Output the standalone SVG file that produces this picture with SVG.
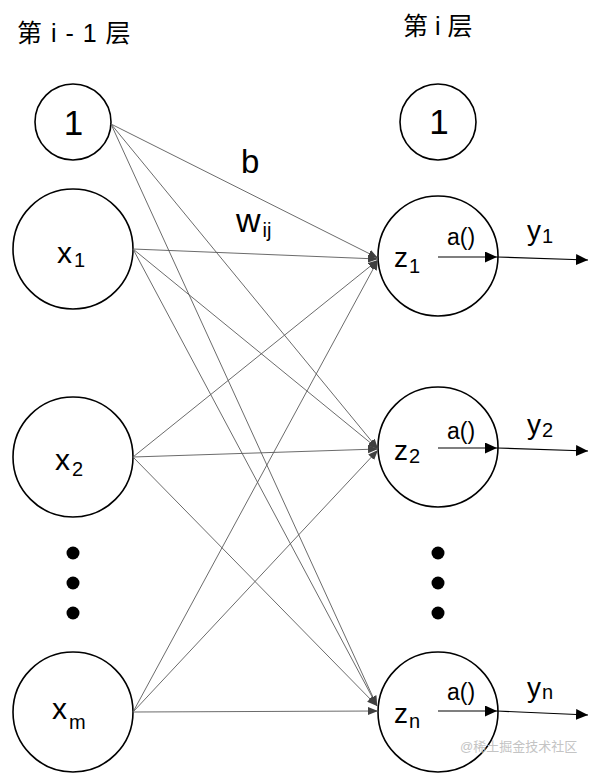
<svg xmlns="http://www.w3.org/2000/svg" width="590" height="773" viewBox="0 0 590 773">
<style>
text{font-family:"Liberation Sans","Noto Sans CJK SC",sans-serif;fill:#000}
.node{fill:#fff;stroke:#000;stroke-width:1.6}
.in{stroke:#5a5a5a;stroke-width:0.9;fill:none;marker-end:url(#ga)}
.out{stroke:#000;stroke-width:1.2;fill:none;marker-end:url(#ba)}
.hdr{font-size:25px}
.dot{fill:#000}
</style>
<defs>
<marker id="ga" markerUnits="userSpaceOnUse" markerWidth="12" markerHeight="10" refX="10" refY="4" orient="auto">
<path d="M0,0 L10,4 L0,8 Z" fill="#404040"/>
</marker>
<marker id="ba" markerUnits="userSpaceOnUse" markerWidth="14" markerHeight="12" refX="12" refY="5.5" orient="auto">
<path d="M0,0 L12,5.5 L0,11 Z" fill="#000"/>
</marker>
</defs>
<rect width="590" height="773" fill="#fff"/>
<text class="hdr" x="17" y="42" letter-spacing="1">第 i - 1 层</text>
<text class="hdr" x="403" y="35">第 i 层</text>
<g id="bias-left"><circle class="node" cx="73" cy="122" r="38"/><text x="73.5" y="135" font-size="35" text-anchor="middle">1</text></g>
<g id="x1"><circle class="node" cx="73" cy="249" r="60"/><text x="57" y="263" font-size="30">x<tspan font-size="20" dy="4" dx="2">1</tspan></text></g>
<g id="x2"><circle class="node" cx="73" cy="457" r="60"/><text x="55" y="470" font-size="30">x<tspan font-size="20" dy="6" dx="2">2</tspan></text></g>
<g id="dots-left"><circle class="dot" cx="73" cy="553" r="6.5"/><circle class="dot" cx="73" cy="583" r="6.5"/><circle class="dot" cx="73" cy="613" r="6.5"/></g>
<g id="xm"><circle class="node" cx="73" cy="712" r="60"/><text x="52" y="719" font-size="30">x<tspan font-size="20" dy="10" dx="2">m</tspan></text></g>
<g id="bias-right"><circle class="node" cx="438" cy="122" r="38"/><text x="439" y="134" font-size="35" text-anchor="middle">1</text></g>
<g id="z1"><circle class="node" cx="438" cy="256" r="60"/><text x="394" y="267" font-size="28">z<tspan font-size="20" dy="6" dx="1">1</tspan></text><text x="447" y="245" font-size="23">a()</text></g>
<g id="z2"><circle class="node" cx="438" cy="447" r="60"/><text x="394" y="460" font-size="28">z<tspan font-size="20" dy="3" dx="1">2</tspan></text><text x="447" y="439" font-size="23">a()</text></g>
<g id="dots-right"><circle class="dot" cx="438" cy="553" r="6.5"/><circle class="dot" cx="438" cy="583" r="6.5"/><circle class="dot" cx="438" cy="613" r="6.5"/></g>
<g id="zn"><circle class="node" cx="438" cy="712" r="60"/><text x="394" y="723" font-size="28">z<tspan font-size="20" dy="5" dx="1">n</tspan></text><text x="447" y="700" font-size="23">a()</text></g>
<g id="connectors">
<line class="in" x1="111" y1="124" x2="378" y2="258"/>
<line class="in" x1="111" y1="124" x2="378" y2="449"/>
<line class="in" x1="111" y1="124" x2="377" y2="706"/>
<line class="in" x1="133" y1="249" x2="378" y2="259"/>
<line class="in" x1="133" y1="249" x2="378" y2="449"/>
<line class="in" x1="133" y1="249" x2="377" y2="706"/>
<line class="in" x1="133" y1="457" x2="378" y2="260"/>
<line class="in" x1="133" y1="457" x2="378" y2="449"/>
<line class="in" x1="133" y1="457" x2="377" y2="706"/>
<line class="in" x1="133" y1="712" x2="378" y2="260"/>
<line class="in" x1="133" y1="712" x2="378" y2="450"/>
<line class="in" x1="133" y1="712" x2="378" y2="711"/>
<line class="out" x1="438" y1="257" x2="497" y2="257"/>
<line class="out" x1="497" y1="257" x2="588" y2="260"/>
<line class="out" x1="438" y1="448" x2="497" y2="448"/>
<line class="out" x1="497" y1="448" x2="588" y2="451"/>
<line class="out" x1="438" y1="711" x2="497" y2="711"/>
<line class="out" x1="497" y1="711" x2="588" y2="715"/>
<text x="241" y="173" font-size="33">b</text>
<text x="236" y="232" font-size="34">w<tspan font-size="20" dy="5" dx="2">ij</tspan></text>
</g>
<g id="outputs">
<text x="527" y="240" font-size="28">y<tspan font-size="20" dy="3" dx="1">1</tspan></text>
<text x="527" y="434" font-size="28">y<tspan font-size="20" dy="3" dx="1">2</tspan></text>
<text x="527" y="697" font-size="28">y<tspan font-size="20" dy="2" dx="1">n</tspan></text>
</g>
<text x="460" y="751" font-size="13" style="fill:#c4c4c4">@稀土掘金技术社区</text>
</svg>
